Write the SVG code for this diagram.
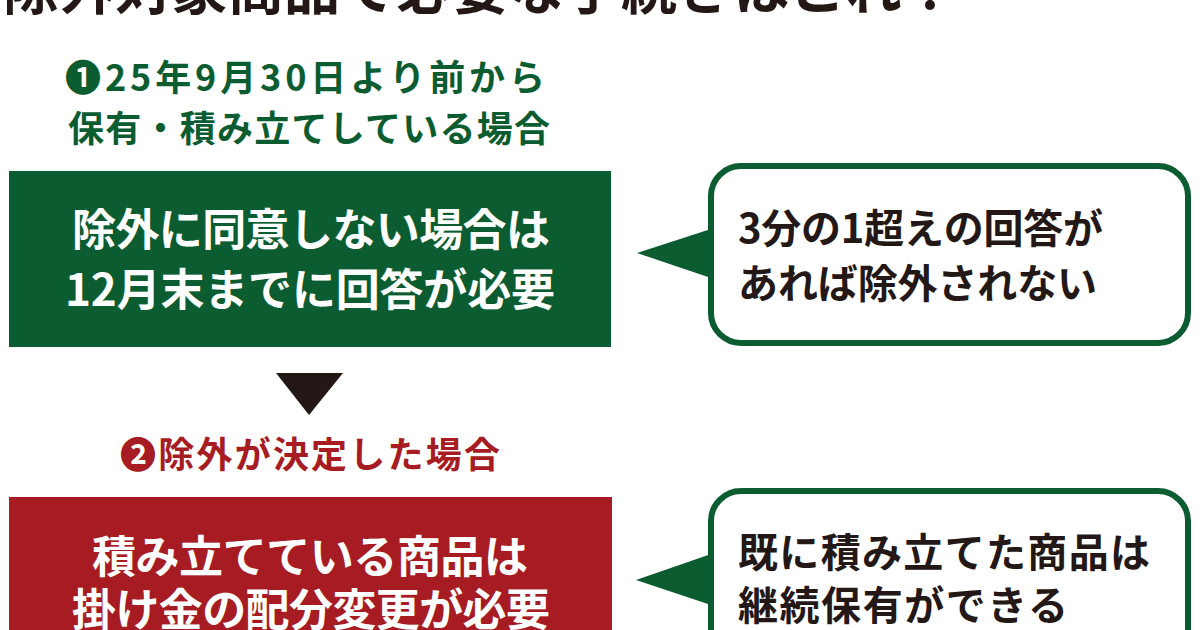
<svg xmlns="http://www.w3.org/2000/svg" width="1200" height="630" viewBox="0 0 1200 630">
<style>
text{font-family:"Noto Sans CJK JP","Noto Sans CJK SC",sans-serif;font-weight:700;}
.title{font-size:56px;fill:#231815;}
.lg{font-size:36px;fill:#0b5c30;}
.lr{font-size:36px;fill:#a61c22;}
.box{font-size:44px;fill:#ffffff;}
.bub{font-size:40px;fill:#231815;}
.bubshape{fill:#ffffff;stroke:#0b5c30;stroke-width:6;}
.ptr{fill:#0b5c30;}
</style>
<rect width="1200" height="630" fill="#ffffff"/>
<g id="title">
<text class="title" x="3" y="9" textLength="955" lengthAdjust="spacing">除外対象商品で必要な手続きはこれ！</text>
</g>
<g id="label1">
<text class="lg" x="65" y="91" textLength="480" lengthAdjust="spacing">❶25年9月30日より前から</text>
<text class="lg" x="68" y="142" textLength="482" lengthAdjust="spacing">保有・積み立てしている場合</text>
</g>
<g id="box1">
<rect x="9" y="171" width="602" height="176" fill="#0b5c30"/>
<text class="box" x="72" y="246" textLength="478" lengthAdjust="spacing">除外に同意しない場合は</text>
<text class="box" x="65" y="306" textLength="490" lengthAdjust="spacing">12月末までに回答が必要</text>
</g>
<g id="bubble1">
<rect class="bubshape" x="711" y="166" width="477" height="177" rx="30" ry="30"/>
<polygon class="ptr" points="637,253 714,228 714,279"/>
<text class="bub" x="738" y="243" textLength="365" lengthAdjust="spacing">3分の1超えの回答が</text>
<text class="bub" x="738" y="298" textLength="359" lengthAdjust="spacing">あれば除外されない</text>
</g>
<g id="connectors">
<polygon points="276,373 343,373 309,415" fill="#231815"/>
</g>
<g id="label2">
<text class="lr" x="120" y="468" textLength="380" lengthAdjust="spacing">❷除外が決定した場合</text>
</g>
<g id="box2">
<rect x="9" y="497" width="603" height="150" fill="#a61c22"/>
<text class="box" x="92" y="573" textLength="436" lengthAdjust="spacing">積み立てている商品は</text>
<text class="box" x="72" y="626" textLength="478" lengthAdjust="spacing">掛け金の配分変更が必要</text>
</g>
<g id="bubble2">
<rect class="bubshape" x="711" y="491" width="477" height="200" rx="30" ry="30"/>
<polygon class="ptr" points="636,580 714,553 714,606"/>
<text class="bub" x="738" y="567" textLength="412" lengthAdjust="spacing">既に積み立てた商品は</text>
<text class="bub" x="738" y="620" textLength="330" lengthAdjust="spacing">継続保有ができる</text>
</g>
</svg>
